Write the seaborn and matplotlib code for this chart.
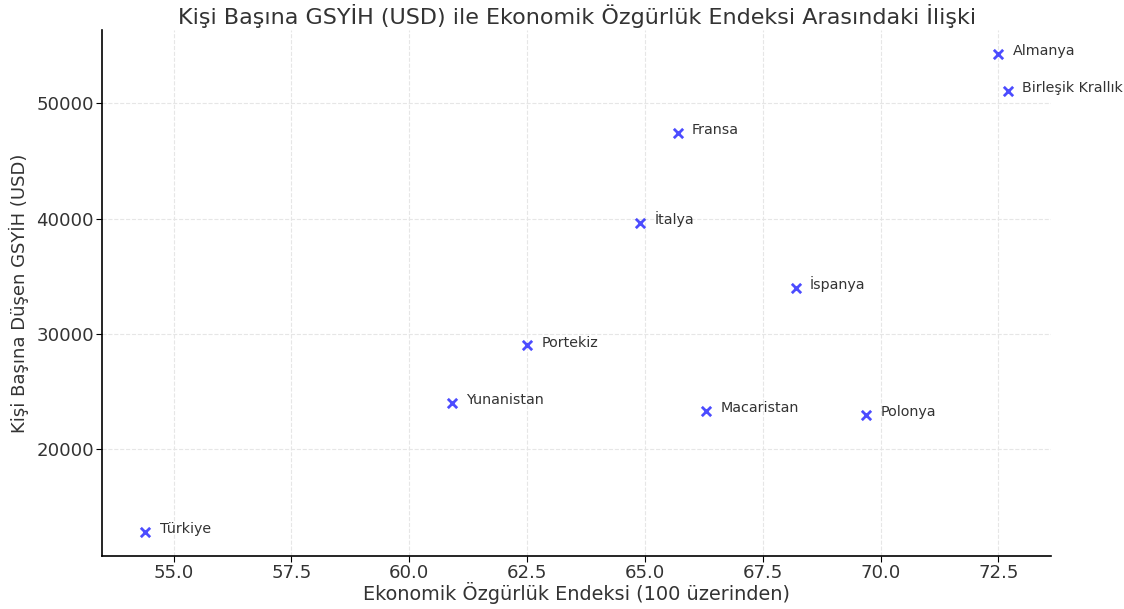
import pandas as pd
import matplotlib
matplotlib.use('Agg')
import matplotlib.pyplot as plt
import seaborn as sns

ulkeler = ['Türkiye', 'Yunanistan', 'Portekiz', 'İtalya', 'Fransa',
           'Macaristan', 'İspanya', 'Polonya', 'Almanya', 'Birleşik Krallık']
ozgurluk = [54.4, 60.9, 62.5, 64.9, 65.7, 66.3, 68.2, 69.7, 72.5, 72.7]
gsyih = [12800, 24000, 29000, 39600, 47400, 23300, 34000, 23000, 54300, 51100]

df = pd.DataFrame({'Ülke': ulkeler, 'Özgürlük': ozgurluk, 'GSYİH': gsyih})

sns.set_style('whitegrid', {'grid.linestyle': '--', 'grid.color': '#e6e6e6',
                            'axes.edgecolor': 'black'})
plt.rcParams['font.family'] = ['DejaVu Sans']

fig, ax = plt.subplots(figsize=(11.24, 6.09), dpi=100)
fig.subplots_adjust(left=0.091, right=0.935, top=0.951, bottom=0.087)

sns.scatterplot(data=df, x='Özgürlük', y='GSYİH', marker='x', color='blue',
                alpha=0.7, s=45, linewidth=2, ax=ax)

for _, r in df.iterrows():
    ax.text(r['Özgürlük'] + 0.3, r['GSYİH'] - 100, r['Ülke'],
            fontsize=10.3, color='#333333')

ax.set_title('Kişi Başına GSYİH (USD) ile Ekonomik Özgürlük Endeksi Arasındaki İlişki',
             fontsize=16, color='#333333', pad=4)
ax.set_xlabel('Ekonomik Özgürlük Endeksi (100 üzerinden)', fontsize=13.9,
              color='#333333', labelpad=0)
ax.set_ylabel('Kişi Başına Düşen GSYİH (USD)', fontsize=13, color='#333333',
              labelpad=5)
ax.tick_params(axis='both', labelsize=13.1, colors='#333333', length=4, pad=2,
               left=True, bottom=True)
ax.tick_params(axis='both', color='black')
ax.set_xticks([55.0, 57.5, 60.0, 62.5, 65.0, 67.5, 70.0, 72.5])
ax.set_xticklabels(['55.0', '57.5', '60.0', '62.5', '65.0', '67.5', '70.0', '72.5'])
ax.set_yticks([20000, 30000, 40000, 50000])
ax.set_yticklabels(['20000', '30000', '40000', '50000'])
sns.despine(ax=ax)
for sp in ['left', 'bottom']:
    ax.spines[sp].set_color('black')
    ax.spines[sp].set_linewidth(1.2)

plt.savefig('out.png', dpi=100)
